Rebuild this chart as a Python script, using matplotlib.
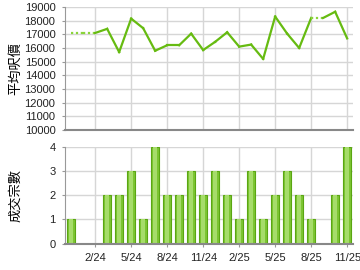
import matplotlib.pyplot as plt
import numpy as np

plt.rcParams['font.family'] = ['Liberation Sans', 'Noto Sans CJK TC', 'DejaVu Sans']

# monthly data 12/23 .. 11/25
months = ['12/23', '1/24', '2/24', '3/24', '4/24', '5/24', '6/24', '7/24', '8/24', '9/24',
          '10/24', '11/24', '12/24', '1/25', '2/25', '3/25', '4/25', '5/25', '6/25', '7/25',
          '8/25', '9/25', '10/25', '11/25']
avg_price = [17100, 17100, 17100, 17400, 15700, 18150, 17450, 15800, 16200, 16200,
             17050, 15850, 16450, 17150, 16100, 16250, 15200, 18300, 17050, 16000,
             18200, 18200, 18650, 16700]
deals = [1, 0, 0, 2, 2, 3, 1, 4, 2, 2, 3, 2, 3, 2, 1, 3, 1, 2, 3, 2, 1, 0, 2, 4]
tick_labels = ['2/24', '5/24', '8/24', '11/24', '2/25', '5/25', '8/25', '11/25']

x = np.arange(len(months))
tick_pos = [months.index(t) for t in tick_labels]

fig = plt.figure(figsize=(3.6, 2.7), dpi=100)
ax1 = fig.add_axes([0.181, 0.5185, 0.8, 0.4556])
ax2 = fig.add_axes([0.181, 0.0981, 0.8, 0.3574])

grid_c = '#d6d6d6'
for ax in (ax1, ax2):
    ax.set_xlim(-0.5, len(months) - 0.5)
    ax.set_xticks(tick_pos)
    ax.grid(True, color=grid_c, linewidth=1)
    ax.set_axisbelow(True)
    for s in ('top', 'right'):
        ax.spines[s].set_visible(False)
    ax.spines['left'].set_color('#999999')
    ax.spines['bottom'].set_color('#888888')
    ax.spines['bottom'].set_linewidth(1.5)
    ax.tick_params(length=2, color='#999999', labelsize=8, labelcolor='#222222', pad=5)

# price line: dotted where the next month has no deals
for i in range(len(months) - 1):
    if deals[i + 1] == 0:
        ax1.plot(x[i:i + 2], avg_price[i:i + 2], color='#8ad43a', lw=1.6, ls=(0, (1, 1.2)))
    else:
        ax1.plot(x[i:i + 2], avg_price[i:i + 2], color='#66bb11', lw=1.6, solid_joinstyle='miter')
ax1.set_ylim(10000, 19000)
ax1.set_yticks(range(10000, 19001, 1000))
ax1.set_xticklabels([])
ax1.tick_params(axis='x', length=0)
ax1.set_ylabel('平均呎價', fontsize=9.5, family=['Noto Sans CJK TC'])
ax1.yaxis.set_label_coords(-0.148, 0.5)

# deals bars
ax2.bar(x, deals, width=0.72, color='#7cc532', edgecolor='#5aa612', linewidth=0.8)
ax2.bar(x, deals, width=0.3, color='#a6dc6a', linewidth=0)
ax2.set_ylim(0, 4)
ax2.set_yticks(range(0, 5))
ax2.set_xticklabels(tick_labels)
ax2.set_ylabel('成交宗數', fontsize=9.5, family=['Noto Sans CJK TC'])
ax2.yaxis.set_label_coords(-0.148, 0.5)

plt.savefig('out.png', dpi=100)
